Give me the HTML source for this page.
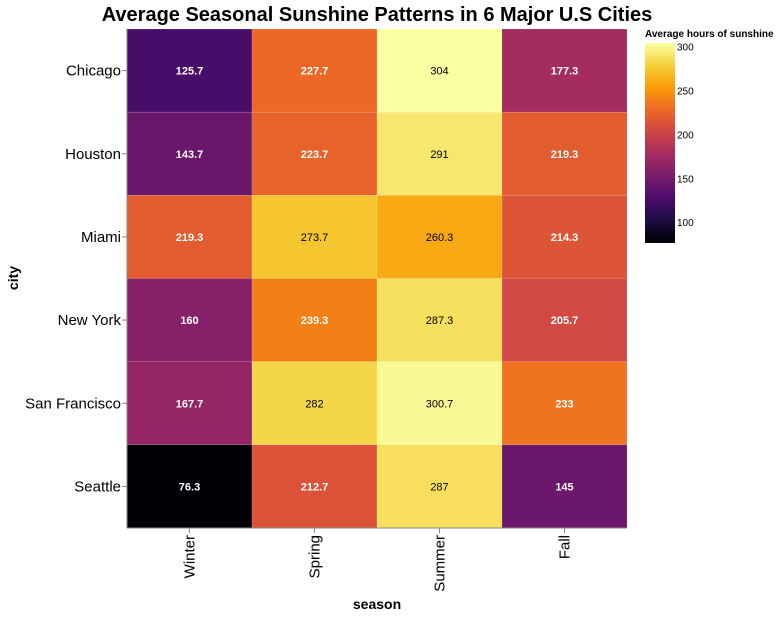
<!DOCTYPE html>
<html><head><meta charset="utf-8"><style>
body{margin:0;background:#fff;}
svg text{font-family:"Liberation Sans",Arial,sans-serif;}
</style></head><body>
<svg id="chart" width="779" height="617" xmlns="http://www.w3.org/2000/svg">
<defs>
<linearGradient id="lg" x1="0" y1="1" x2="0" y2="0"></linearGradient>
</defs>
<text x="377" y="21" text-anchor="middle" font-size="20" font-weight="bold">Average Seasonal Sunshine Patterns in 6 Major U.S Cities</text>
<g id="cells"></g>
<g id="axes"></g>
<text x="377" y="609" text-anchor="middle" font-size="14" font-weight="bold">season</text>
<text transform="translate(18,278) rotate(-90)" text-anchor="middle" font-size="14" font-weight="bold">city</text>
<g id="legend">
<text x="645" y="37" font-size="10" font-weight="bold">Average hours of sunshine</text>
<rect x="645" y="43" width="30" height="200" fill="url(#lg)"/>
</g>
</svg>
<script>
const cities=["Chicago","Houston","Miami","New York","San Francisco","Seattle"];
const seasons=["Winter","Spring","Summer","Fall"];
const winter=[125.7,143.7,219.3,160,167.7,76.3];
const spring=[227.7,223.7,273.7,239.3,282,212.7];
const summer=[304,291,260.3,287.3,300.7,287];
const fall=[177.3,219.3,214.3,205.7,233,145];
const legendTicks=[100,150,200,250,300];
const series=[winter,spring,summer,fall];
const NS="http://www.w3.org/2000/svg";
const x0=127,x1=627,y0=29,y1=528,dmin=76.3,dmax=304;
const cw=(x1-x0)/seasons.length, ch=(y1-y0)/cities.length;
const xPos=i=>x0+i*cw, yPos=j=>y0+j*ch;
const stops=["#000004","#1b0c41","#4a0c6b","#781c6d","#a52c60","#cf4446","#ed6925","#fb9b06","#f4d03a","#fcffa4"];
function hex(h){return [1,3,5].map(k=>parseInt(h.substr(k,2),16));}
function color(v){let t=Math.max(0,Math.min(1,(v-dmin)/(dmax-dmin)))*(stops.length-1);let i=Math.min(Math.floor(t),stops.length-2),f=t-i;const a=hex(stops[i]),b=hex(stops[i+1]);return "rgb("+a.map((c,k)=>Math.round(c+(b[k]-c)*f)).join(",")+")";}
function mk(tag,attrs,parent){const e=document.createElementNS(NS,tag);for(const k in attrs)e.setAttribute(k,attrs[k]);parent.appendChild(e);return e;}
const lg=document.getElementById('lg');
stops.forEach((s,i)=>mk('stop',{offset:i/(stops.length-1),'stop-color':s},lg));
const cells=document.getElementById('cells');
series.forEach((arr,i)=>arr.forEach((v,j)=>{
 const r=mk('rect',{x:xPos(i),y:yPos(j),width:cw,height:ch,fill:color(v),stroke:'rgba(255,255,255,0.25)','stroke-width':0.5},cells);
 
 
 const t=mk('text',{x:xPos(i)+cw/2,y:yPos(j)+ch/2+4,'text-anchor':'middle','font-size':11,fill:v<250?'#fff':'#000','font-weight':v<250?'bold':'normal'},cells);
 t.textContent=String(v);
 
 
}));
const ax=document.getElementById('axes');
cities.forEach((c,j)=>{
 const y=yPos(j)+ch/2;
 mk('line',{x1:x0-5,x2:x0,y1:y,y2:y,stroke:'#888'},ax);
 const t=mk('text',{x:x0-6,y:y+5,'text-anchor':'end','font-size':15},ax);
 t.textContent=c;
 
 
});
seasons.forEach((s,i)=>{
 const x=xPos(i)+cw/2;
 mk('line',{x1:x,x2:x,y1:y1,y2:y1+5,stroke:'#888'},ax);
 const t=mk('text',{transform:'translate('+(x+5)+','+(y1+7)+') rotate(-90)','text-anchor':'end','font-size':15},ax);
 t.textContent=s;
 
 
});
mk('line',{x1:x0,x2:x0,y1:y0,y2:y1,stroke:'#888'},ax);
mk('line',{x1:x0,x2:x1,y1:y1,y2:y1,stroke:'#888'},ax);
const leg=document.getElementById('legend');
const ly=v=>243-(v-dmin)/(dmax-dmin)*200;
legendTicks.forEach(v=>{
 const t=mk('text',{x:677,y:ly(v)+4,'font-size':10},leg);
 t.textContent=v;
 
 
});
</script>
</body></html>
